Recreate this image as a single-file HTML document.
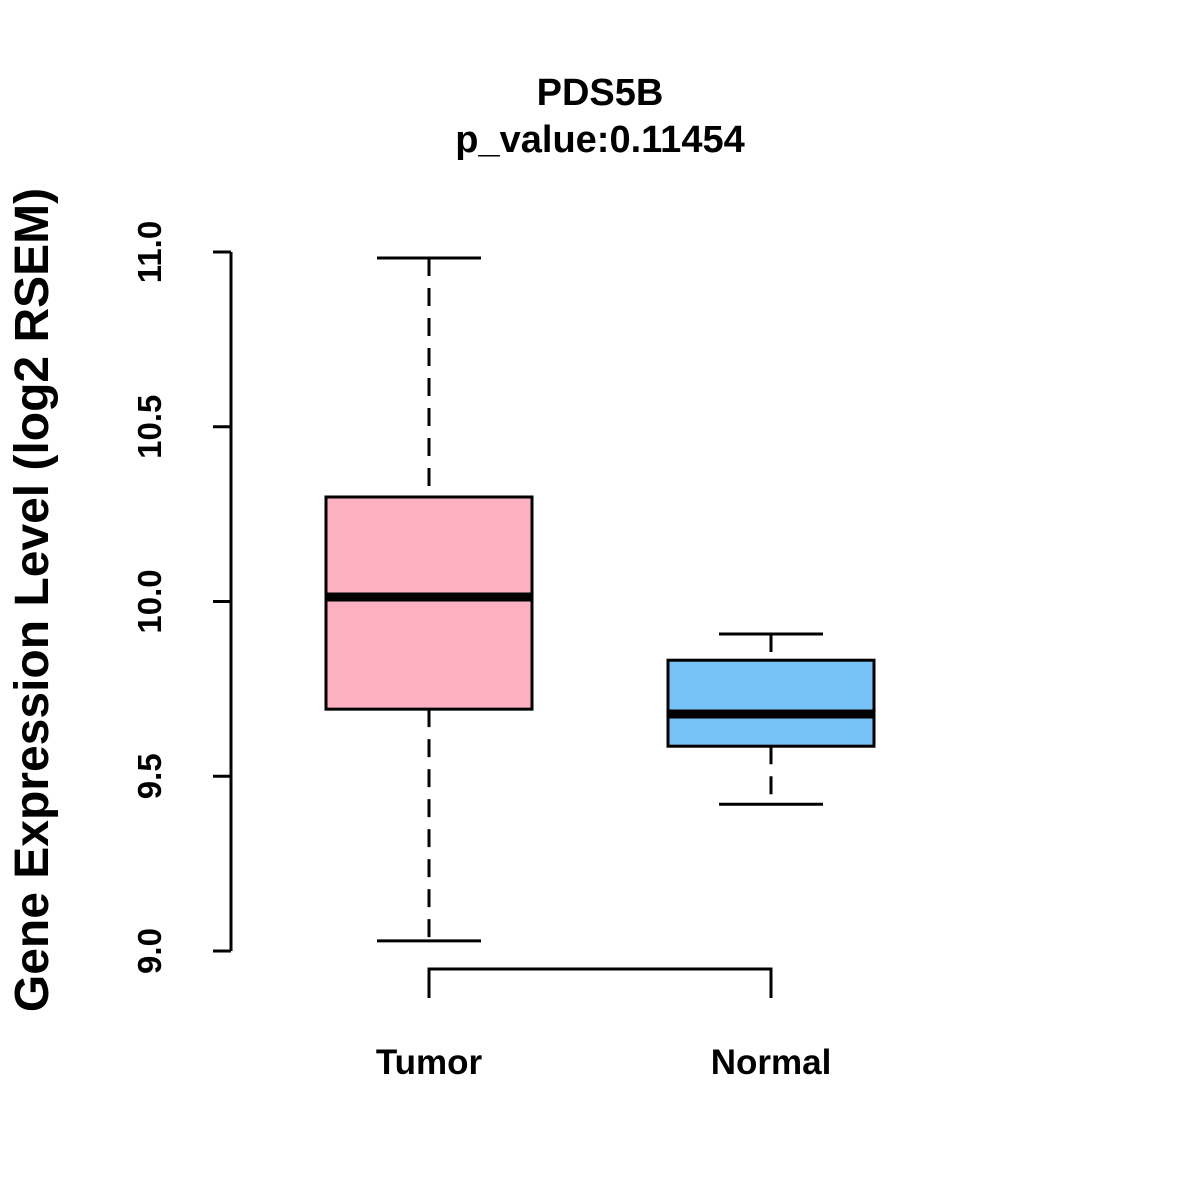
<!DOCTYPE html>
<html><head><meta charset="utf-8"><style>
html,body{margin:0;padding:0;background:#fff;}
svg{display:block;font-family:"Liberation Sans",Arial,sans-serif;}
</style></head><body>
<svg id="chart" width="1200" height="1200" viewBox="0 0 1200 1200">
<rect width="1200" height="1200" fill="#fff"/>
<text x="600" y="105" text-anchor="middle" font-size="38" font-weight="bold">PDS5B</text>
<text x="600" y="152" text-anchor="middle" font-size="38" font-weight="bold">p_value:0.11454</text>
<text transform="translate(48,600) rotate(-90)" text-anchor="middle" font-size="48" font-weight="bold">Gene Expression Level (log2 RSEM)</text>
<g id="axis"></g>
<g id="boxes"></g>
<g>
<path d="M429 998 V969 H771 V998" fill="none" stroke="#000" stroke-width="3"/>
</g>
</svg>
<script>
const categories = ["Tumor", "Normal"];
const mins = [9.029, 9.420];
const q1s = [9.692, 9.586];
const medians = [10.013, 9.678];
const q3s = [10.299, 9.832];
const maxs = [10.983, 9.907];
const colors = ["#FDB0C0", "#77C2F7"];
const yTicks = [9.0, 9.5, 10.0, 10.5, 11.0];
const yTickLabels = ["9.0", "9.5", "10.0", "10.5", "11.0"];

const NS = "http://www.w3.org/2000/svg";
function y(v){ return 951 - (v - 9.0) * 349.5; }
function x(i){ return 429 + i * 342; }
function mk(tag, attrs, parent){
  const e = document.createElementNS(NS, tag);
  for (const k in attrs) e.setAttribute(k, attrs[k]);
  parent.appendChild(e);
  return e;
}
const axis = document.getElementById('axis');
const ln = mk('line', {x1:231, x2:231, y1:y(yTicks[yTicks.length-1]), y2:y(yTicks[0]), stroke:'#000', 'stroke-width':3}, axis);


yTicks.forEach((t, i) => {
  const tk = mk('line', {x1:213, x2:231, y1:y(t), y2:y(t), stroke:'#000', 'stroke-width':3}, axis);
  
  
  const tx = mk('text', {transform:`translate(161,${y(t)}) rotate(-90)`, 'text-anchor':'middle', 'font-size':33, 'font-weight':'bold'}, axis);
  tx.textContent = yTickLabels[i];
  
  
});
const boxes = document.getElementById('boxes');
categories.forEach((c, i) => {
  const cx = x(i);
  const g = mk('g', {}, boxes);
  
  
  mk('line', {x1:cx, x2:cx, y1:y(maxs[i]), y2:y(q3s[i]), stroke:'#000', 'stroke-width':3, 'stroke-dasharray':'18,12'}, g);
  mk('line', {x1:cx, x2:cx, y1:y(q1s[i]), y2:y(mins[i]), stroke:'#000', 'stroke-width':3, 'stroke-dasharray':'18,12'}, g);
  mk('line', {x1:cx-52, x2:cx+52, y1:y(maxs[i]), y2:y(maxs[i]), stroke:'#000', 'stroke-width':3}, g);
  mk('line', {x1:cx-52, x2:cx+52, y1:y(mins[i]), y2:y(mins[i]), stroke:'#000', 'stroke-width':3}, g);
  mk('rect', {x:cx-103, y:y(q3s[i]), width:206, height:y(q1s[i]) - y(q3s[i]), fill:colors[i], stroke:'#000', 'stroke-width':3}, g);
  mk('line', {x1:cx-103, x2:cx+103, y1:y(medians[i]), y2:y(medians[i]), stroke:'#000', 'stroke-width':9}, g);
  const lb = mk('text', {x:cx, y:1074, 'text-anchor':'middle', 'font-size':35, 'font-weight':'bold'}, boxes);
  lb.textContent = c;
  
  
});
</script>
</body></html>
